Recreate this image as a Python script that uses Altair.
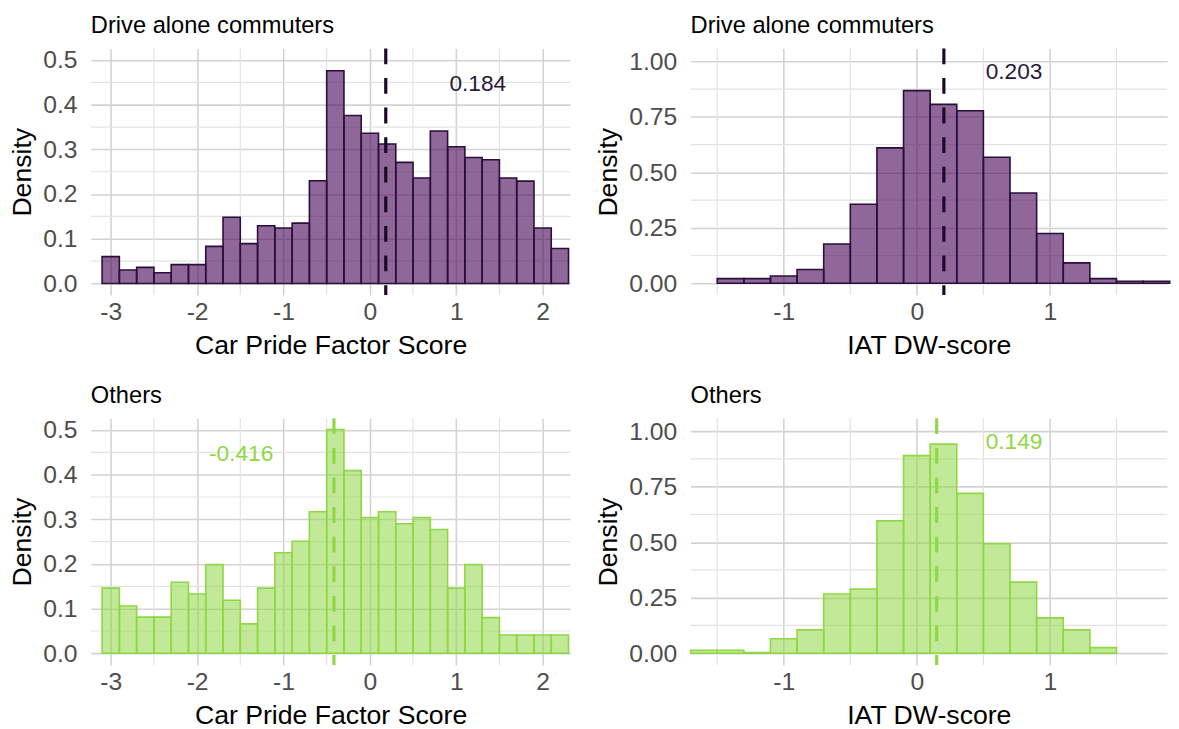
import altair as alt
import pandas as pd

FONT = "Liberation Sans"

# ---------------- data ----------------
CP_CENTERS = [-3.0, -2.8, -2.6, -2.4, -2.2, -2.0, -1.8, -1.6, -1.4, -1.2, -1.0, -0.8, -0.6, -0.4,
              -0.2, 0.0, 0.2, 0.4, 0.6, 0.8, 1.0, 1.2, 1.4, 1.6, 1.8, 2.0, 2.2]
CP_DRIVE = [0.060, 0.030, 0.036, 0.024, 0.042, 0.042, 0.083, 0.148, 0.089, 0.129, 0.124, 0.135, 0.230,
            0.476, 0.376, 0.336, 0.312, 0.271, 0.236, 0.341, 0.306, 0.282, 0.277, 0.236, 0.229, 0.124, 0.078]
CP_OTHERS = [0.146, 0.106, 0.081, 0.081, 0.159, 0.133, 0.199, 0.119, 0.066, 0.146, 0.225, 0.251, 0.317,
             0.501, 0.409, 0.304, 0.317, 0.290, 0.304, 0.277, 0.146, 0.199, 0.080, 0.041, 0.041, 0.041, 0.041]

IAT_CENTERS_DRIVE = [-1.4, -1.2, -1.0, -0.8, -0.6, -0.4, -0.2, 0.0, 0.2, 0.4, 0.6, 0.8, 1.0, 1.2, 1.4, 1.6, 1.8]
IAT_DRIVE = [0.021, 0.021, 0.033, 0.062, 0.177, 0.356, 0.610, 0.868, 0.806, 0.777, 0.568, 0.407, 0.224,
             0.092, 0.021, 0.009, 0.009]
IAT_CENTERS_OTHERS = [-1.6, -1.4, -1.2, -1.0, -0.8, -0.6, -0.4, -0.2, 0.0, 0.2, 0.4, 0.6, 0.8, 1.0, 1.2, 1.4]
IAT_OTHERS = [0.013, 0.013, 0.003, 0.065, 0.105, 0.267, 0.289, 0.596, 0.890, 0.942, 0.720, 0.493, 0.320,
              0.159, 0.105, 0.025]

BIN_WIDTH = 0.2

MEAN_CP_DRIVE = 0.184
MEAN_CP_OTHERS = -0.416
MEAN_IAT_DRIVE = 0.203
MEAN_IAT_OTHERS = 0.149
LABEL_CP_DRIVE = "0.184"
LABEL_CP_OTHERS = "-0.416"
LABEL_IAT_DRIVE = "0.203"
LABEL_IAT_OTHERS = "0.149"
LABEL_POS_CP_DRIVE = (1.25, 0.447)
LABEL_POS_CP_OTHERS = (-1.49, 0.447)
LABEL_POS_IAT_DRIVE = (0.73, 0.951)
LABEL_POS_IAT_OTHERS = (0.73, 0.951)

CP_TICKS = [-3, -2, -1, 0, 1, 2]
CP_MINOR = [-2.5, -1.5, -0.5, 0.5, 1.5]
IAT_TICKS = [-1, 0, 1]
IAT_MINOR = [-1.5, -0.5, 0.5, 1.5]
CP_YTICKS = [0.0, 0.1, 0.2, 0.3, 0.4, 0.5]
CP_YMINOR = [0.05, 0.15, 0.25, 0.35, 0.45]
IAT_YTICKS = [0.0, 0.25, 0.5, 0.75, 1.0]
IAT_YMINOR = [0.125, 0.375, 0.625, 0.875]

CP_XDOMAIN = [-3.23, 2.32]
IAT_XDOMAIN = [-1.70, 1.88]
CP_YDOMAIN = [-0.026, 0.526]
IAT_YDOMAIN = [-0.053, 1.058]

PURPLE_FILL = "#440154"
PURPLE_LINE = "#2a0f3c"
GREEN = "#8FD744"

GRID_MAJOR = "#d3d3d3"
GRID_MINOR = "#e3e3e3"


def panel(centers, dens, mean, label, label_pos, title, xtitle, xdomain, ydomain,
          xticks, xminor, yticks, yminor, yfmt, fill, fill_opacity, stroke, text_color,
          line_color, width, height):
    bars = pd.DataFrame({"c": centers, "d": dens})
    xs = alt.Scale(domain=xdomain, nice=False, zero=False)
    ys = alt.Scale(domain=ydomain, nice=False, zero=False)
    xaxis = alt.Axis(values=xticks, title=xtitle, labelExpr="toString(datum.value)")
    yaxis = alt.Axis(values=yticks, format=yfmt, title="Density")

    vminor = alt.Chart(pd.DataFrame({"v": xminor})).mark_rule(
        color=GRID_MINOR, strokeWidth=1.2).encode(x=alt.X("v:Q", scale=xs, axis=xaxis))
    hminor = alt.Chart(pd.DataFrame({"v": yminor})).mark_rule(
        color=GRID_MINOR, strokeWidth=1.2).encode(y=alt.Y("v:Q", scale=ys, axis=yaxis))

    rects = alt.Chart(bars).transform_calculate(
        x0=f"datum.c - {BIN_WIDTH / 2}", x1=f"datum.c + {BIN_WIDTH / 2}"
    ).mark_rect(fill=fill, fillOpacity=fill_opacity, stroke=stroke, strokeWidth=1.6).encode(
        x=alt.X("x0:Q", scale=xs, axis=xaxis),
        x2="x1:Q",
        y=alt.Y("d:Q", scale=ys, axis=yaxis),
        y2=alt.datum(0),
    )

    vline = alt.Chart(pd.DataFrame({"m": [mean]})).mark_rule(
        color=line_color, strokeWidth=3.2, strokeDash=[16, 14]).encode(
        x=alt.X("m:Q", scale=xs, axis=xaxis))

    txt = alt.Chart(pd.DataFrame({"x": [label_pos[0]], "y": [label_pos[1]], "t": [label]})).mark_text(
        font=FONT, fontSize=23, color=text_color).encode(
        x=alt.X("x:Q", scale=xs, axis=xaxis), y=alt.Y("y:Q", scale=ys, axis=yaxis), text="t:N")

    return alt.layer(vminor, hminor, rects, vline, txt).properties(
        width=width, height=height,
        title=alt.TitleParams(title, anchor="start", frame="group", font=FONT, fontSize=24,
                              fontWeight="normal", color="#000000", offset=9),
    )


W_LEFT, W_RIGHT, H = 486, 483, 250

tl = panel(CP_CENTERS, CP_DRIVE, MEAN_CP_DRIVE, LABEL_CP_DRIVE, LABEL_POS_CP_DRIVE,
           "Drive alone commuters", "Car Pride Factor Score", CP_XDOMAIN, CP_YDOMAIN,
           CP_TICKS, CP_MINOR, CP_YTICKS, CP_YMINOR, ".1f", PURPLE_FILL, 0.6, PURPLE_LINE,
           "#2a1a3a", "#1a0826", W_LEFT, H)
tr = panel(IAT_CENTERS_DRIVE, IAT_DRIVE, MEAN_IAT_DRIVE, LABEL_IAT_DRIVE, LABEL_POS_IAT_DRIVE,
           "Drive alone commuters", "IAT DW-score", IAT_XDOMAIN, IAT_YDOMAIN,
           IAT_TICKS, IAT_MINOR, IAT_YTICKS, IAT_YMINOR, ".2f", PURPLE_FILL, 0.6, PURPLE_LINE,
           "#2a1a3a", "#1a0826", W_RIGHT, H)
bl = panel(CP_CENTERS, CP_OTHERS, MEAN_CP_OTHERS, LABEL_CP_OTHERS, LABEL_POS_CP_OTHERS,
           "Others", "Car Pride Factor Score", CP_XDOMAIN, CP_YDOMAIN,
           CP_TICKS, CP_MINOR, CP_YTICKS, CP_YMINOR, ".1f", GREEN, 0.55, GREEN,
           GREEN, GREEN, W_LEFT, H)
br = panel(IAT_CENTERS_OTHERS, IAT_OTHERS, MEAN_IAT_OTHERS, LABEL_IAT_OTHERS, LABEL_POS_IAT_OTHERS,
           "Others", "IAT DW-score", IAT_XDOMAIN, IAT_YDOMAIN,
           IAT_TICKS, IAT_MINOR, IAT_YTICKS, IAT_YMINOR, ".2f", GREEN, 0.55, GREEN,
           GREEN, GREEN, W_RIGHT, H)

chart = alt.vconcat(
    alt.hconcat(tl, tr, spacing=24),
    alt.hconcat(bl, br, spacing=24),
    spacing=26,
).properties(
    padding={"left": 1, "top": 1, "right": 0, "bottom": 0},
    background="#ffffff",
).configure_view(stroke=None).configure_axis(
    domain=False, ticks=False, tickSize=0,
    grid=True, gridColor=GRID_MAJOR, gridWidth=1.6,
    labelFont=FONT, labelFontSize=25, labelColor="#4d4d4d",
    titleFont=FONT, titleFontSize=27, titleColor="#000000", titleFontWeight="normal",
).configure_axisX(labelPadding=5, titlePadding=8).configure_axisY(labelPadding=14, titlePadding=6)

chart.save("out.html", embed_options={"renderer": "svg", "actions": False})
